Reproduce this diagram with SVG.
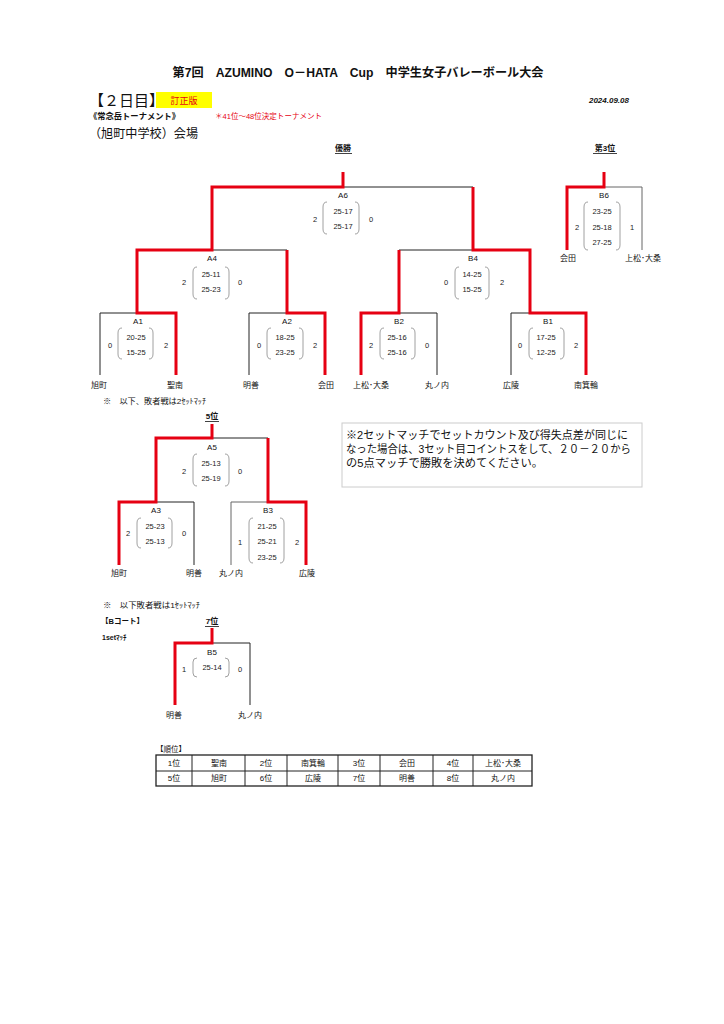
<svg xmlns="http://www.w3.org/2000/svg" width="724" height="1024" viewBox="0 0 724 1024">
<style>
text{font-family:"Liberation Sans","Noto Sans CJK JP",sans-serif;fill:#111}
.t{font-size:8px;text-anchor:middle}
.s{font-size:7.5px;text-anchor:middle;fill:#222}
.b{font-weight:bold}
.r{stroke:#e60012;stroke-width:3;fill:none;stroke-linejoin:miter}
.k{stroke:#222;stroke-width:1;fill:none}
.g{stroke:#666;stroke-width:1;fill:none}
.p{stroke:#888;stroke-width:0.8;fill:none}
.u{stroke:#111;stroke-width:0.8}
</style>
<rect width="724" height="1024" fill="#fff"/>
<g id="header">
<text x="358" y="77" font-size="12" font-weight="bold" text-anchor="middle" textLength="371" lengthAdjust="spacingAndGlyphs">第7回　AZUMINO　O－HATA　Cup　中学生女子バレーボール大会</text>
<text x="89" y="106" font-size="15" font-family="Noto Sans CJK JP, sans-serif">【２日目】</text>
<rect x="156" y="92" width="56" height="16" fill="#ffff00"/>
<text x="184" y="104" font-size="9" text-anchor="middle" style="fill:#e60012">訂正版</text>
<text x="629" y="103" font-size="8" font-weight="bold" font-style="italic" text-anchor="end">2024.09.08</text>
<text x="89" y="119" font-size="8.5" font-weight="bold" textLength="91" lengthAdjust="spacingAndGlyphs">《常念岳トーナメント》</text>
<text x="215" y="119" font-size="7.5" style="fill:#e60012" textLength="107" lengthAdjust="spacingAndGlyphs">＊41位～48位決定トーナメント</text>
<text x="89" y="138" font-size="12.5" textLength="109" lengthAdjust="spacingAndGlyphs">（旭町中学校）会場</text>
<text x="343" y="151" class="t b">優勝</text>
<line x1="335" y1="153.5" x2="352" y2="153.5" class="u"/>
<text x="605" y="151" class="t b">第3位</text>
<line x1="593" y1="153.5" x2="617" y2="153.5" class="u"/>
<text x="103" y="404" font-size="7.5" textLength="103" lengthAdjust="spacingAndGlyphs">※　以下、敗者戦は2ｾｯﾄﾏｯﾁ</text>
<text x="212" y="419" class="t b">5位</text>
<line x1="205" y1="421.5" x2="219" y2="421.5" class="u"/>
<text x="103" y="608" font-size="7.5" textLength="97" lengthAdjust="spacingAndGlyphs">※　以下敗者戦は1ｾｯﾄﾏｯﾁ</text>
<text x="101" y="624" font-size="7.5" font-weight="bold">【Bコート】</text>
<text x="212" y="624" class="t b">7位</text>
<line x1="205" y1="626.5" x2="219" y2="626.5" class="u"/>
<text x="102" y="640" font-size="7" font-weight="bold">1setﾏｯﾁ</text>
</g>
<g id="note">
<rect x="342" y="423" width="300" height="64" fill="#fff" stroke="#ccc" stroke-width="1"/>
<text x="346" y="439" font-size="11" textLength="282" lengthAdjust="spacingAndGlyphs">※2セットマッチでセットカウント及び得失点差が同じに</text>
<text x="346" y="453" font-size="11" textLength="285" lengthAdjust="spacingAndGlyphs">なった場合は、3セット目コイントスをして、２０－２０から</text>
<text x="346" y="467" font-size="11" textLength="197" lengthAdjust="spacingAndGlyphs">の5点マッチで勝敗を決めてください。</text>
</g>
<g id="connectors">
<path class="k" d="M100,375 V313 H137 M249,375 V313 H287 M212,250 H287 M343,187 H473 M399,313 H437 V375 M399,250 H473 M511,375 V313 H530 M212,438 H268 M156,502 H194 V565 M212,643 H250 V705"/>
<path class="g" d="M604,187 H642 V250 M231,565 V502 H268"/>
<path class="r" d="M176,375 V313 H137 V250 H212 V187 H343 V172"/>
<path class="r" d="M325,375 V313 H287 V250"/>
<path class="r" d="M361,375 V313 H399 V250"/>
<path class="r" d="M586,375 V313 H530 V250 H473 V187"/>
<path class="r" d="M567,250 V187 H604 V172"/>
<path class="r" d="M119,565 V502 H156 V438 H212 V424"/>
<path class="r" d="M306,565 V502 H268 V438"/>
<path class="r" d="M175,705 V643 H212 V628"/>
</g>
<g id="A6">
<text x="343" y="198" class="t">A6</text>
<path class="p" d="M327,202 Q323,202 323,207 V229 Q323,234 327,234 M355,202 Q359,202 359,207 V229 Q359,234 355,234"/>
<text x="343" y="214" class="s">25-17</text><text x="343" y="229" class="s">25-17</text>
<text x="315" y="222" class="s">2</text><text x="371" y="222" class="s">0</text>
</g>
<g id="A4">
<text x="212" y="261" class="t">A4</text>
<path class="p" d="M197,267 Q193,267 193,272 V294 Q193,299 197,299 M225,267 Q229,267 229,272 V294 Q229,299 225,299"/>
<text x="211" y="277" class="s">25-11</text><text x="211" y="292" class="s">25-23</text>
<text x="184" y="285" class="s">2</text><text x="240" y="285" class="s">0</text>
</g>
<g id="A1">
<text x="138" y="324" class="t">A1</text>
<path class="p" d="M122,328 Q118,328 118,333 V354 Q118,359 122,359 M149,328 Q153,328 153,333 V354 Q153,359 149,359"/>
<text x="136" y="340" class="s">20-25</text><text x="136" y="355" class="s">15-25</text>
<text x="110" y="348" class="s">0</text><text x="166" y="348" class="s">2</text>
</g>
<g id="A2">
<text x="287" y="324" class="t">A2</text>
<path class="p" d="M271,328 Q267,328 267,333 V354 Q267,359 271,359 M299,328 Q303,328 303,333 V354 Q303,359 299,359"/>
<text x="285" y="340" class="s">18-25</text><text x="285" y="355" class="s">23-25</text>
<text x="259" y="348" class="s">0</text><text x="315" y="348" class="s">2</text>
</g>
<g id="B4">
<text x="473" y="261" class="t">B4</text>
<path class="p" d="M459,267 Q455,267 455,272 V294 Q455,299 459,299 M485,267 Q489,267 489,272 V294 Q489,299 485,299"/>
<text x="472" y="277" class="s">14-25</text><text x="472" y="292" class="s">15-25</text>
<text x="446" y="285" class="s">0</text><text x="502" y="285" class="s">2</text>
</g>
<g id="B2">
<text x="399" y="324" class="t">B2</text>
<path class="p" d="M384,328 Q380,328 380,333 V354 Q380,359 384,359 M411,328 Q415,328 415,333 V354 Q415,359 411,359"/>
<text x="397" y="340" class="s">25-16</text><text x="397" y="355" class="s">25-16</text>
<text x="371" y="348" class="s">2</text><text x="427" y="348" class="s">0</text>
</g>
<g id="B1">
<text x="548" y="324" class="t">B1</text>
<path class="p" d="M533,328 Q529,328 529,333 V354 Q529,359 533,359 M560,328 Q564,328 564,333 V354 Q564,359 560,359"/>
<text x="546" y="340" class="s">17-25</text><text x="546" y="355" class="s">12-25</text>
<text x="520" y="348" class="s">0</text><text x="576" y="348" class="s">2</text>
</g>
<g id="B6">
<text x="604" y="198" class="t">B6</text>
<path class="p" d="M588,202 Q584,202 584,207 V245 Q584,250 588,250 M616,202 Q620,202 620,207 V245 Q620,250 616,250"/>
<text x="602" y="214" class="s">23-25</text><text x="602" y="230" class="s">25-18</text><text x="602" y="245" class="s">27-25</text>
<text x="577" y="230" class="s">2</text><text x="632" y="230" class="s">1</text>
<text x="568" y="261" class="t">会田</text><text x="643" y="261" class="t">上松･大桑</text>
</g>
<g id="teams-main">
<text x="99" y="388" class="t">旭町</text>
<text x="175" y="388" class="t">聖南</text>
<text x="251" y="388" class="t">明善</text>
<text x="326" y="388" class="t">会田</text>
<text x="371" y="388" class="t">上松･大桑</text>
<text x="437" y="388" class="t">丸ノ内</text>
<text x="511" y="388" class="t">広陵</text>
<text x="586" y="388" class="t">南箕輪</text>
</g>
<g id="A5">
<text x="212" y="450" class="t">A5</text>
<path class="p" d="M197,454 Q193,454 193,459 V481 Q193,486 197,486 M225,454 Q229,454 229,459 V481 Q229,486 225,486"/>
<text x="211" y="466" class="s">25-13</text><text x="211" y="481" class="s">25-19</text>
<text x="184" y="474" class="s">2</text><text x="240" y="474" class="s">0</text>
</g>
<g id="A3">
<text x="156" y="513" class="t">A3</text>
<path class="p" d="M141,518 Q137,518 137,523 V543 Q137,548 141,548 M168,518 Q172,518 172,523 V543 Q172,548 168,548"/>
<text x="155" y="529" class="s">25-23</text><text x="155" y="544" class="s">25-13</text>
<text x="128" y="536" class="s">2</text><text x="184" y="536" class="s">0</text>
</g>
<g id="B3">
<text x="268" y="513" class="t">B3</text>
<path class="p" d="M253,518 Q249,518 249,523 V558 Q249,563 253,563 M280,518 Q284,518 284,523 V558 Q284,563 280,563"/>
<text x="267" y="529" class="s">21-25</text><text x="267" y="544" class="s">25-21</text><text x="267" y="560" class="s">23-25</text>
<text x="240" y="545" class="s">1</text><text x="297" y="545" class="s">2</text>
</g>
<g id="teams-5">
<text x="119" y="576" class="t">旭町</text>
<text x="194" y="576" class="t">明善</text>
<text x="231" y="576" class="t">丸ノ内</text>
<text x="307" y="576" class="t">広陵</text>
</g>
<g id="B5">
<text x="212" y="655" class="t">B5</text>
<path class="p" d="M197,658 Q193,658 193,662 V673 Q193,677 197,677 M225,658 Q229,658 229,662 V673 Q229,677 225,677"/>
<text x="212" y="670" class="s">25-14</text>
<text x="184" y="672" class="s">1</text><text x="240" y="672" class="s">0</text>
<text x="174" y="718" class="t">明善</text>
<text x="250" y="718" class="t">丸ノ内</text>
</g>
<g id="ranking">
<text x="156" y="752" font-size="7.5">【順位】</text>
<rect x="156" y="755" width="376" height="31" fill="none" stroke="#222" stroke-width="1.3"/>
<path class="k" d="M156,771 H532 M192,755 V786 M245,755 V786 M287,755 V786 M338,755 V786 M380,755 V786 M433,755 V786 M473,755 V786"/>
<text x="174" y="766" class="t">1位</text><text x="219" y="766" class="t">聖南</text>
<text x="266" y="766" class="t">2位</text><text x="313" y="766" class="t">南箕輪</text>
<text x="359" y="766" class="t">3位</text><text x="407" y="766" class="t">会田</text>
<text x="453" y="766" class="t">4位</text><text x="503" y="766" class="t">上松･大桑</text>
<text x="174" y="781" class="t">5位</text><text x="219" y="781" class="t">旭町</text>
<text x="266" y="781" class="t">6位</text><text x="313" y="781" class="t">広陵</text>
<text x="359" y="781" class="t">7位</text><text x="407" y="781" class="t">明善</text>
<text x="453" y="781" class="t">8位</text><text x="503" y="781" class="t">丸ノ内</text>
</g>
</svg>
